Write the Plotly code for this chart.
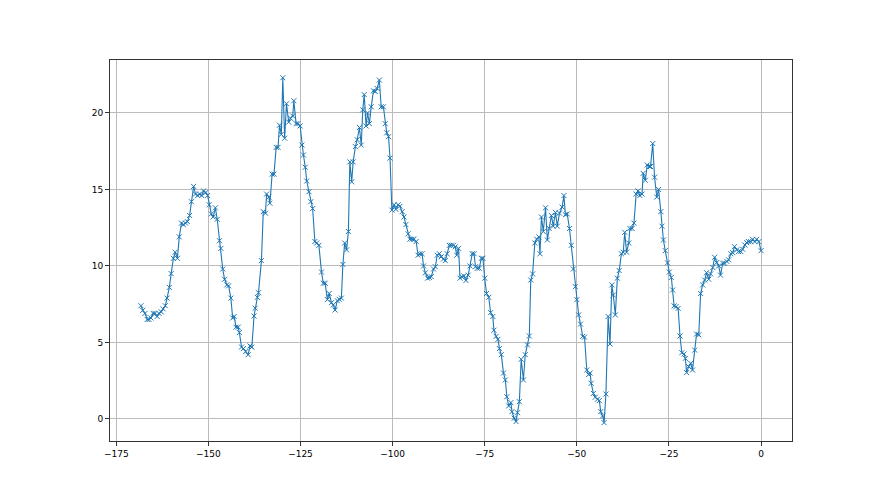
import plotly.graph_objects as go

x_vals = [
-168.3,-167.8,-167.2,-166.6,-166.1,-165.6,-165.0,-164.5,-163.9,-163.4,-162.8,-162.3,-161.7,-161.2,-160.6,-160.1,
-159.5,-159.0,-158.4,-157.9,-157.3,-156.8,-156.2,-155.7,-155.1,-154.6,-154.0,-153.5,-152.9,-152.4,-151.8,-151.3,
-150.7,-150.2,-149.8,-149.2,-148.7,-148.1,-147.6,-147.0,-146.6,-146.1,-145.6,-145.0,-144.5,-143.9,-143.4,-143.0,
-142.5,-141.9,-141.6,-141.0,-140.5,-139.9,-139.2,-138.7,-138.2,-137.6,-137.3,-136.7,-136.4,-135.6,-135.1,-134.5,
-134.2,-133.6,-133.3,-132.7,-132.2,-131.6,-131.1,-130.7,-130.2,-129.8,-129.3,-128.8,-128.2,-127.7,-127.1,-126.8,
-126.2,-125.7,-125.1,-124.6,-124.2,-123.7,-123.3,-122.7,-122.2,-121.7,-121.1,-120.6,-120.0,-119.3,-118.8,-118.3,
-117.7,-117.2,-116.6,-116.1,-115.6,-115.0,-114.5,-113.9,-113.5,-113.0,-112.5,-112.0,-111.6,-111.1,-110.7,-110.1,
-109.6,-109.0,-108.5,-108.1,-107.7,-107.2,-106.8,-106.3,-105.8,-105.2,-104.7,-104.2,-103.6,-103.1,-102.5,-102.0,
-101.6,-101.1,-100.7,-100.2,-99.6,-99.1,-98.5,-98.0,-97.4,-96.9,-96.4,-95.8,-95.3,-94.7,-94.2,-93.6,
-93.1,-92.6,-92.0,-91.6,-91.1,-90.5,-90.0,-89.5,-88.9,-88.4,-87.9,-87.3,-86.8,-86.2,-85.7,-85.2,
-84.6,-84.1,-83.5,-83.0,-82.6,-82.1,-81.7,-81.2,-80.6,-80.1,-79.5,-79.0,-78.4,-77.9,-77.5,-77.0,
-76.5,-75.9,-75.5,-75.0,-74.5,-73.9,-73.4,-72.8,-72.5,-71.9,-71.4,-71.0,-70.5,-69.9,-69.4,-69.0,
-68.5,-67.9,-67.6,-67.0,-66.5,-66.1,-65.6,-65.1,-64.5,-64.0,-63.4,-62.9,-62.5,-62.0,-61.4,-60.9,
-60.3,-60.0,-59.6,-59.1,-58.5,-58.0,-57.5,-56.9,-56.4,-55.8,-55.3,-54.7,-54.0,-53.5,-53.1,-52.6,
-52.0,-51.5,-50.95,-50.4,-50.0,-49.5,-49.0,-48.4,-47.9,-47.3,-46.8,-46.4,-46.1,-45.5,-45.0,-44.4,
-43.9,-43.5,-43.0,-42.6,-42.1,-41.5,-41.0,-40.5,-40.1,-39.55,-39.0,-38.5,-37.9,-37.4,-37.0,-36.5,
-35.9,-35.6,-35.0,-34.5,-33.9,-33.4,-32.9,-32.3,-32.0,-31.4,-30.9,-30.3,-30.0,-29.4,-28.9,-28.3,
-27.8,-27.2,-26.9,-26.5,-26.0,-25.4,-24.9,-24.35,-24.0,-23.6,-23.1,-22.5,-22.0,-21.5,-20.9,-20.55,
-20.2,-19.65,-19.1,-18.6,-18.0,-17.5,-16.9,-16.4,-15.85,-15.3,-14.8,-14.2,-13.7,-13.1,-12.6,-12.05,
-11.5,-11.0,-10.4,-9.9,-9.3,-8.8,-8.2,-7.7,-7.2,-6.6,-6.1,-5.5,-5.0,-4.4,-3.9,-3.4,
-2.8,-2.3,-1.7,-1.2,-0.6,0.0
]

y_vals = [
7.4,7.1,6.9,6.5,6.5,6.6,6.9,6.9,6.7,6.9,7.0,7.2,7.4,7.9,8.6,9.5,
10.5,10.9,10.5,11.9,12.8,12.7,12.8,12.9,13.3,14.2,15.2,14.7,14.6,14.7,14.6,14.9,
14.8,14.6,14.0,13.4,13.2,13.8,13.05,11.65,11.15,9.8,9.13,8.76,8.7,7.9,6.6,6.7,
6.0,6.0,5.65,4.7,4.6,4.4,4.2,4.77,4.7,6.73,7.24,7.95,8.25,10.35,13.55,13.45,
14.7,14.5,14.1,16.0,16.0,17.75,17.75,19.2,18.6,22.3,18.35,20.6,19.4,19.65,19.8,20.8,
19.3,19.3,19.15,17.9,17.25,16.45,15.55,14.85,14.2,13.75,11.6,11.5,11.35,9.6,8.87,8.87,
7.8,8.2,7.6,7.45,7.12,7.73,7.82,7.9,10.1,11.5,11.05,12.25,16.8,15.5,16.8,17.8,
18.25,19.05,17.9,20.2,21.2,19.15,20.0,19.3,20.4,21.45,21.4,21.6,22.15,20.4,20.4,19.3,
18.7,18.45,17.05,13.65,14.0,13.7,14.0,13.9,13.55,13.2,12.7,12.1,11.75,11.75,11.75,11.6,
10.7,10.8,10.8,10.0,9.55,9.2,9.25,9.3,9.8,9.95,10.7,10.8,10.6,10.45,10.35,10.8,
11.35,11.35,11.35,11.25,10.7,11.15,9.2,9.3,9.35,9.05,9.4,10.0,10.8,10.8,9.95,9.85,
9.85,10.5,10.5,9.2,8.2,7.95,6.95,6.7,5.8,5.4,5.2,4.6,4.2,3.0,2.55,1.45,
0.85,1.07,0.48,0.05,-0.17,0.41,1.13,3.9,2.55,4.2,4.84,5.42,9.08,9.48,11.5,11.75,
11.9,10.8,13.2,12.25,13.8,11.7,12.45,13.3,12.6,13.5,12.6,13.45,13.85,14.6,13.35,13.4,
12.45,11.35,9.8,8.65,7.8,6.8,6.2,5.4,5.35,3.2,2.9,3.0,2.33,1.67,1.42,1.29,
1.2,0.48,0.2,-0.24,1.63,6.7,4.9,8.76,8.1,6.8,9.2,9.7,10.8,10.9,12.2,10.9,
11.5,12.45,12.45,12.8,14.7,14.9,14.6,14.7,16.05,15.6,16.6,16.5,16.5,18.0,15.8,14.5,
15.0,13.55,12.6,11.7,11.0,10.2,9.6,9.25,8.43,7.39,7.34,7.23,5.42,4.33,4.25,3.96,
3.03,3.42,3.64,3.2,4.5,5.55,5.5,8.2,8.76,9.08,9.56,9.13,9.48,9.9,10.57,10.22,
10.0,9.4,10.18,10.18,10.3,10.4,10.8,10.87,11.26,11.05,10.94,10.94,11.09,11.37,11.52,11.59,
11.59,11.74,11.59,11.74,11.59,11.0
]

x_ticks = [-175, -150, -125, -100, -75, -50, -25, 0]
y_ticks = [0, 5, 10, 15, 20]

color = "#1f77b4"

fig = go.Figure()
fig.add_trace(go.Scatter(
    x=x_vals, y=y_vals, mode="lines+markers",
    line=dict(color=color, width=1.1),
    marker=dict(symbol="x-thin", size=5, line=dict(color=color, width=1)),
    showlegend=False,
))

axis_common = dict(
    showline=True, mirror=True, linecolor="#333333", linewidth=1,
    ticks="outside", ticklen=4, tickcolor="#333333", tickwidth=1,
    showgrid=True, gridcolor="#bcbcbc", gridwidth=0.8,
    zeroline=False,
    tickfont=dict(family="DejaVu Sans", size=9, color="#000000"),
)

fig.update_layout(
    width=880, height=495,
    margin=dict(l=102, r=96, t=52, b=62),
    paper_bgcolor="white", plot_bgcolor="white",
    xaxis=dict(range=[-176.7, 8.4], tickvals=x_ticks, **axis_common),
    yaxis=dict(range=[-1.44, 23.46], tickvals=y_ticks, **axis_common),
)

fig.write_html("out.html")
